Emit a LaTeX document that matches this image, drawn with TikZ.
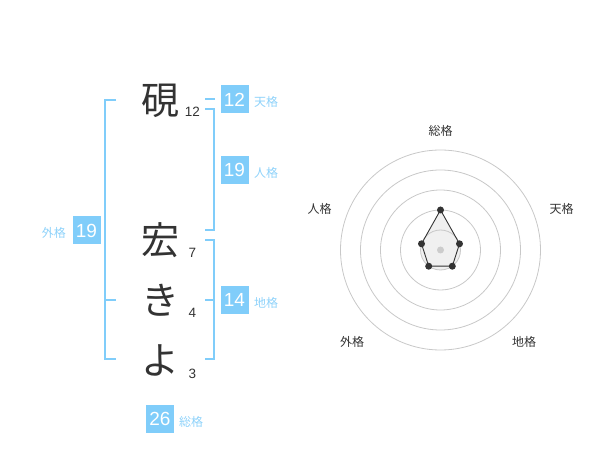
\documentclass[tikz,border=0pt]{standalone}
\usepackage{fontspec}
\setmainfont{Liberation Sans}
\newfontfamily\jpfont{Noto Sans CJK JP}
\usepackage{xcolor}
\usetikzlibrary{positioning}

\definecolor{skyblue}{HTML}{80CDFA}
\definecolor{labelblue}{HTML}{8ED2FA}
\definecolor{inkgray}{HTML}{333333}
\definecolor{ringgray}{HTML}{C8C8C8}

\begin{document}
\begin{tikzpicture}[x=1pt, y=-1pt,
    bracket/.style={line width=2pt, skyblue},
    kanji/.style={anchor=base, inner sep=0pt, text=inkgray, font=\jpfont\fontsize{38}{38}\selectfont},
    strokes/.style={anchor=base, inner sep=0pt, text=inkgray, font=\fontsize{13.5}{13.5}\selectfont},
    scorebox/.style={fill=skyblue, text=white, minimum width=28pt, minimum height=28pt, inner sep=0pt, font=\fontsize{19}{19}\selectfont},
    scorelabel/.style={inner sep=0pt, text=labelblue, font=\jpfont\fontsize{12}{12}\selectfont},
    axislabel/.style={inner sep=0pt, text=inkgray, font=\jpfont\fontsize{12}{12}\selectfont},
    ring/.style={ringgray, line width=0.8pt},
    vertex/.style={circle, fill=inkgray, inner sep=0pt, minimum size=7pt}]
    \useasboundingbox (0, 0) rectangle (600, 470);

    % Name characters with stroke counts
    \node[kanji] (c1) at (160, 114.4) {硯};
    \node[kanji] (c2) at (160, 254.4) {宏};
    \node[kanji] (c3) at (160, 314.4) {き};
    \node[kanji] (c4) at (160, 374.4) {よ};
    \node[strokes] (s1) at (192.5, 117) {12};
    \node[strokes] (s2) at (192.5, 258) {7};
    \node[strokes] (s3) at (192.5, 318) {4};
    \node[strokes] (s4) at (192.5, 378) {3};

    % Outer bracket (left)
    \draw[bracket] (116, 100) -- (105, 100) -- (105, 359) -- (116, 359);
    \draw[bracket] (105, 300) -- (116, 300);

    % Inner brackets (right)
    \draw[bracket] (205, 99) -- (215, 99);
    \draw[bracket] (205, 109) -- (214, 109) -- (214, 230) -- (205, 230);
    \draw[bracket] (205, 240) -- (214, 240) -- (214, 359) -- (205, 359);
    \draw[bracket] (205, 300) -- (214, 300);

    % Score boxes
    \node[scorebox] (ten) at (234.5, 99.5) {12};
    \node[scorelabel, anchor=west] (tenlbl) at (254, 102) {天格};
    \node[scorebox] (jin) at (234.5, 170) {19};
    \node[scorelabel, anchor=west] (jinlbl) at (254, 172.5) {人格};
    \node[scorebox] (chi) at (234.5, 300) {14};
    \node[scorelabel, anchor=west] (chilbl) at (254, 302.5) {地格};
    \node[scorebox] (gai) at (86.5, 230.5) {19};
    \node[scorelabel, anchor=east] (gailbl) at (66, 233) {外格};
    \node[scorebox] (sou) at (160, 419) {26};
    \node[scorelabel, anchor=west] (soulbl) at (179, 421.5) {総格};

    % Radar chart
    \coordinate (ctr) at (440.5, 250);
    \fill[gray!12] (ctr) circle (20);
    \fill[black!6] ([shift={(0, -40)}]ctr) -- ([shift={(19, -6.2)}]ctr)
        -- ([shift={(11.8, 16.2)}]ctr) -- ([shift={(-11.8, 16.2)}]ctr) -- ([shift={(-19, -6.2)}]ctr) -- cycle;
    \fill[gray!12] (ctr) circle (20);
    \foreach \r in {20, 40, 60, 80, 100}
        \draw[ring] (ctr) circle (\r);
    \fill[gray!40] (ctr) circle (3.5);
    \node[vertex] (vsou) at ([shift={(0, -40)}]ctr) {};
    \node[vertex] (vten) at ([shift={(19, -6.2)}]ctr) {};
    \node[vertex] (vchi) at ([shift={(11.8, 16.2)}]ctr) {};
    \node[vertex] (vgai) at ([shift={(-11.8, 16.2)}]ctr) {};
    \node[vertex] (vjin) at ([shift={(-19, -6.2)}]ctr) {};
    \draw[inkgray, line width=0.9pt] (vsou.center) -- (vten.center) -- (vchi.center)
        -- (vgai.center) -- (vjin.center) -- cycle;

    % Axis labels
    \node[axislabel] (asou) at (440.5, 131) {総格};
    \node[axislabel] (aten) at (561.5, 208.5) {天格};
    \node[axislabel] (ajin) at (319.5, 208.5) {人格};
    \node[axislabel] (agai) at (352, 342) {外格};
    \node[axislabel] (achi) at (524, 342) {地格};
\end{tikzpicture}
\end{document}
